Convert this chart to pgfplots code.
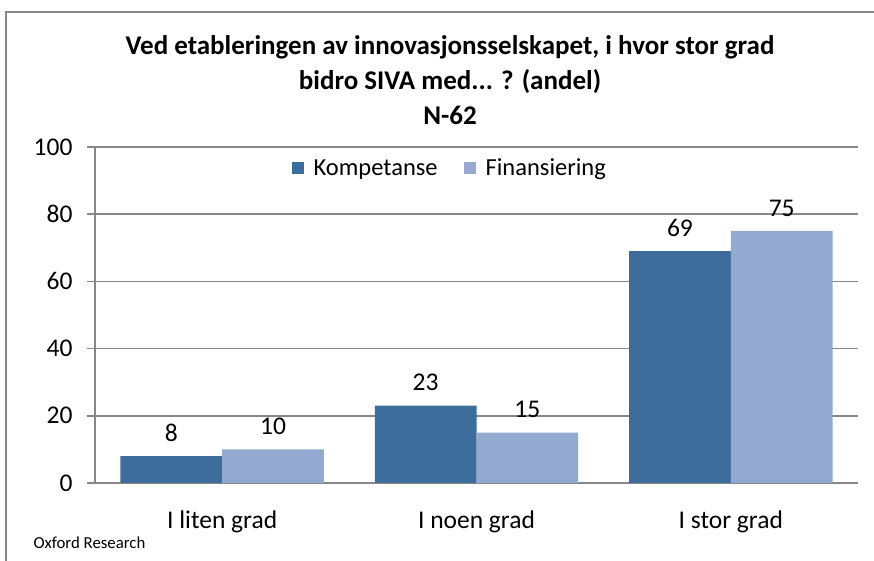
\documentclass[border=0pt]{standalone}
\usepackage{fontspec}
\setmainfont{Carlito}
\usepackage{pgfplots}
\pgfplotsset{compat=1.18}
\definecolor{komp}{HTML}{3D6D9D}
\definecolor{fin}{HTML}{93A9CF}
\definecolor{gridgray}{HTML}{878787}
\begin{document}
\begin{tikzpicture}
\path[use as bounding box] (0bp,0bp) rectangle (874bp,561bp);
\draw[gridgray, line width=2bp] (6bp,-5bp) -- (6bp,548.5bp) -- (880bp,548.5bp);
\node[font=\fontsize{27bp}{35bp}\selectfont\bfseries, align=center] at (450bp,481bp)
  {Ved etableringen av innovasjonsselskapet, i hvor stor grad\\bidro SIVA med... ? (andel)\\N-62};
\node[font=\fontsize{16.8bp}{20bp}\selectfont, anchor=west] at (30bp,18bp) {Oxford Research};
\begin{axis}[
  at={(95bp,78bp)}, anchor=south west,
  scale only axis, width=763bp, height=336bp,
  font=\fontsize{25.5bp}{30bp}\selectfont,
  /pgf/number format/assume math mode=true,
  xmin=-0.5, xmax=2.5, ymin=0, ymax=100,
  ytick={0,20,40,60,80,100},
  xtick={0,1,2},
  xticklabels={I liten grad, I noen grad, I stor grad},
  major x tick style={draw=none},
  extra x ticks={-0.5,0.5,1.5,2.5},
  extra x tick labels={},
  extra x tick style={grid=none, major tick length=7bp, tick style={gridgray, line width=1.5bp}},
  axis x line*=bottom, axis y line*=left,
  axis line style={gridgray, line width=1.5bp, -},
  tick align=outside,
  major tick length=8bp,
  y tick style={gridgray, line width=1.5bp},
  ymajorgrids, grid style={gridgray, line width=1.5bp},
  yticklabel style={anchor=east, xshift=-11bp},
  xticklabel style={yshift=-16bp},
  ybar=0pt, bar width=0.4,
  nodes near coords,
  every node near coord/.append style={anchor=center, yshift=23bp, font=\fontsize{25.5bp}{30bp}\selectfont, black},
  legend columns=2,
  legend style={at={(0.465,0.9375)}, anchor=center, draw=none, fill=white,
    inner xsep=24bp, inner ysep=6bp, font=\fontsize{24.5bp}{30bp}\selectfont,
    /tikz/every odd column/.append style={column sep=8bp},
    /tikz/every even column/.append style={column sep=24bp}},
  legend image code/.code={\path[#1, draw=none] (0bp,-6bp) rectangle (12bp,6bp);},
  legend cell align=left,
]
\addplot[fill=komp, draw=none, bar shift=-0.2] coordinates {(0,8) (1,23) (2,69)};
\addplot[fill=fin, draw=none, bar shift=0.2] coordinates {(0,10) (1,15) (2,75)};
\legend{Kompetanse, Finansiering}
\end{axis}
\end{tikzpicture}
\end{document}
